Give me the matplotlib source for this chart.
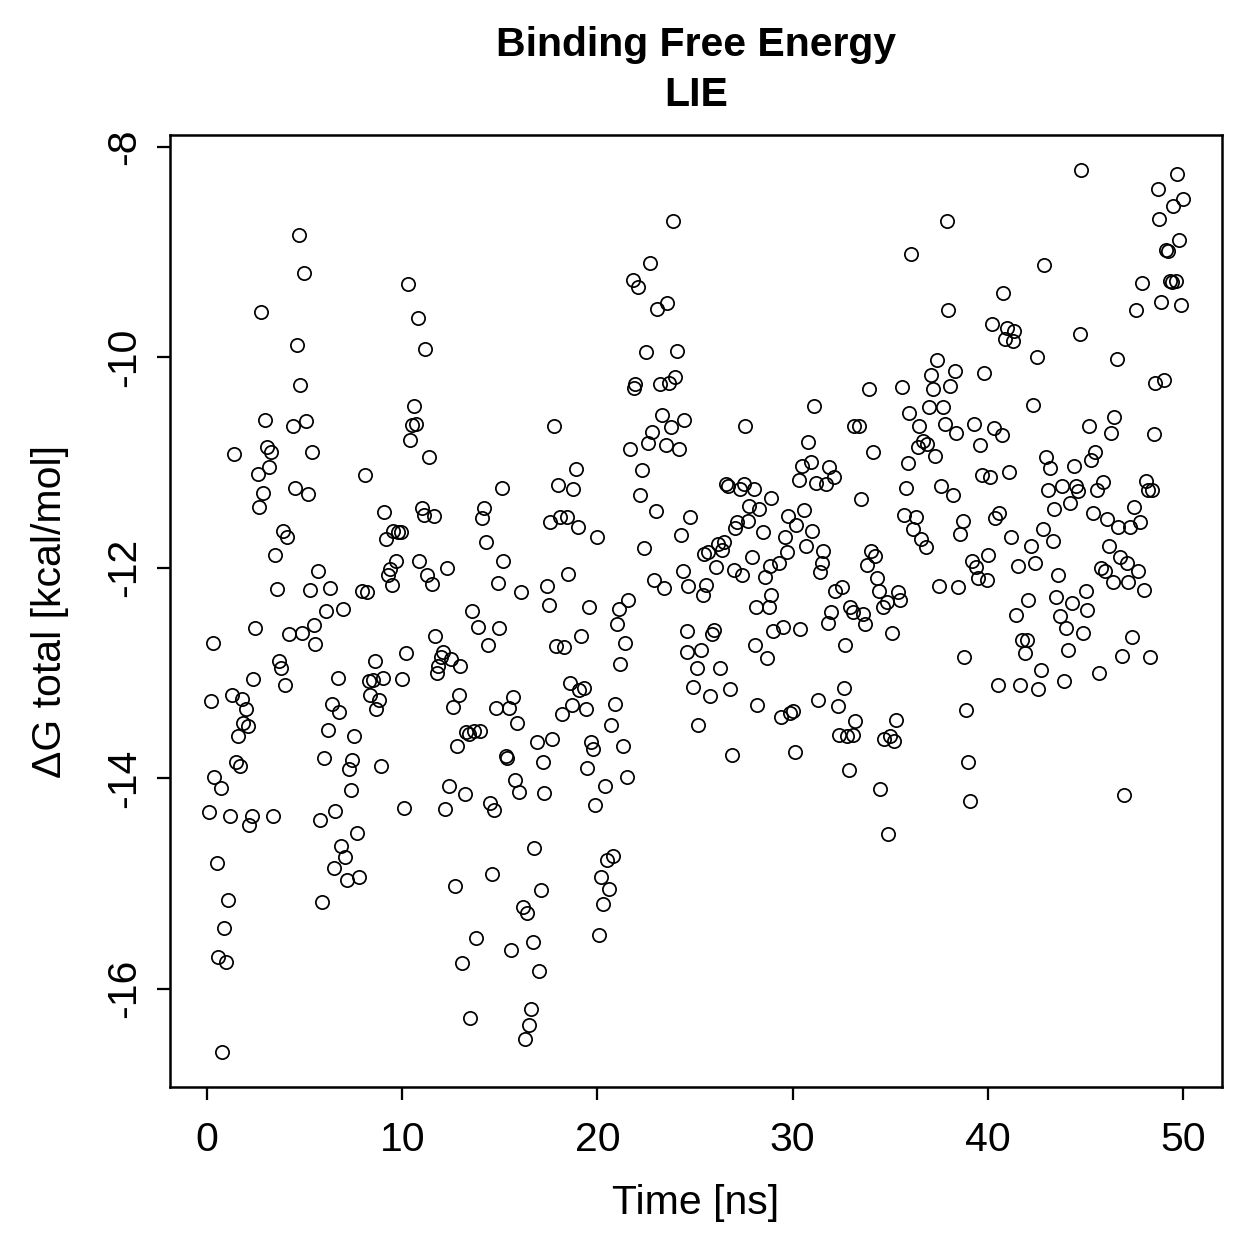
import matplotlib
matplotlib.use('Agg')
import matplotlib.pyplot as plt

plt.rcParams['font.family'] = ['Liberation Sans', 'DejaVu Sans']
plt.rcParams['axes.unicode_minus'] = False

#-------------------------------------------------------------------------------
# Data
#-------------------------------------------------------------------------------

title = 'Binding Free Energy\nLIE'
x_label = 'Time [ns]'
y_label = '\u0394G total [kcal/mol]'
x_ticks = [0, 10, 20, 30, 40, 50]
y_ticks = [-16, -14, -12, -10, -8]

time_ns = [
    # 0 - 8 ns, lower part
    0.31, 2.46, 4.20, 4.87, 5.48, 5.53, 6.10, 6.97, 3.69, 3.79,
    4.00, 2.36, 6.71, 0.20, 1.28, 1.79, 2.00, 1.84, 2.10, 1.59,
    1.49, 1.69, 6.40, 6.76, 6.20, 5.99, 7.53, 7.43, 7.27, 7.38,
    0.36, 0.72, 0.10, 1.18, 2.31, 2.15, 3.38, 5.79, 6.56, 7.68,
    6.86, 7.07, 6.51, 7.17, 7.79, 0.51, 1.08, 5.89, 0.87, 0.56,
    0.97, 0.77,
    # 0 - 8 ns, upper part
    4.71, 4.97, 2.77, 4.61, 4.76, 2.97, 4.41, 5.07, 1.38, 3.07,
    3.28, 5.38, 3.18, 2.61, 4.51, 5.17, 2.87, 2.66, 3.89, 4.10,
    3.48, 5.69, 3.59, 5.28, 6.30,
    # 8 - 16 ns, upper part
    10.30, 10.81, 11.17, 10.60, 10.50, 10.71, 10.40, 11.37, 8.09, 15.11,
    9.07, 11.01, 11.12, 11.63, 14.19, 14.09, 9.53, 9.78, 9.94, 9.17,
    14.29, 9.68, 10.86, 15.16, 9.38, 9.27, 9.48, 12.30, 11.27, 11.53,
    14.91, 7.94, 8.20, 13.58, 16.09,
    # 8 - 16 ns, lower part
    13.88, 14.96, 14.40, 11.68, 10.19, 8.61, 12.09, 11.99, 12.50, 11.83,
    12.96, 11.78, 8.30, 8.50, 9.02, 9.99, 8.35, 8.81, 8.66, 12.91,
    12.60, 14.80, 15.47, 15.68, 15.88, 13.27, 13.42, 13.68, 13.99, 12.81,
    8.91, 15.32, 15.37, 15.78, 15.98, 12.40, 13.22, 10.09, 12.19, 14.50,
    14.70, 12.70, 14.60, 13.78, 15.57, 13.06, 13.47,
    # 16 - 25 ns, upper part
    23.87, 22.69, 21.82, 22.08, 23.57, 23.05, 22.49, 24.08, 21.93, 21.87,
    23.21, 23.67, 23.98, 17.78, 23.31, 23.77, 24.44, 22.80, 22.59, 23.51,
    24.18, 21.67, 18.90, 22.28, 17.98, 18.75, 22.18, 23.00, 17.57, 18.08,
    18.44, 19.01, 19.98, 22.39, 24.28, 24.74, 18.49, 17.42, 17.52, 19.57,
    21.11, 21.57, 22.90, 23.41, 24.39, 24.64,
    # 16 - 25 ns, lower part
    21.00, 21.41, 21.16, 19.16, 17.88, 18.29, 18.60, 19.06, 19.31, 18.70,
    18.19, 19.42, 20.90, 20.70, 16.91, 17.67, 17.21, 19.67, 19.77, 21.31,
    19.47, 21.52, 20.39, 19.88, 17.26, 24.59, 24.59, 24.90, 16.75, 17.11,
    16.19, 16.39, 16.70, 17.01, 20.80, 20.49, 20.18, 20.59, 20.29, 20.08,
    16.60, 16.50, 16.29,
    # 25 - 33 ns, upper part
    31.10, 27.56, 30.79, 30.48, 30.94, 31.86, 32.12, 30.33, 31.20, 31.71,
    33.14, 26.59, 26.69, 27.51, 27.31, 28.02, 28.89, 27.77, 28.28, 29.76,
    30.58, 30.17, 27.72, 27.15, 27.05, 28.48, 30.99, 29.61, 30.69, 31.56,
    31.50, 31.40, 29.71, 29.30, 28.84, 28.58, 27.92, 26.48, 26.18, 26.38,
    25.66, 25.46, 26.07, 27.00, 27.41, 25.56, 25.41, 28.89, 28.12, 28.79,
    32.17, 32.53, 31.97, 32.94,
    # 25 - 33 ns, lower part
    33.09, 31.81, 25.97, 25.87, 29.00, 29.51, 30.38, 32.68, 28.07, 28.69,
    25.31, 25.10, 26.28, 25.77, 26.79, 32.63, 28.17, 31.30, 32.32, 29.40,
    29.86, 30.02, 25.15, 33.20, 32.37, 32.78, 33.09, 26.89, 30.12, 32.89,
    # 33 - 42 ns, upper part
    37.91, 36.07, 40.78, 37.96, 40.21, 40.98, 41.34, 40.88, 41.29, 37.40,
    37.09, 38.32, 37.19, 38.06, 39.81, 33.91, 35.60, 36.99, 37.70, 35.96,
    37.81, 36.48, 38.37, 39.29, 40.32, 40.73, 39.60, 33.40, 34.12, 36.68,
    36.42, 36.89, 37.30, 35.91, 35.81, 37.60, 38.22, 39.70, 40.11, 41.09,
    33.50, 35.71, 36.32, 36.17, 38.73, 38.58, 40.57, 40.37, 41.19, 36.58,
    36.83, 34.02, 34.22, 33.81, 34.32, 39.19, 39.40, 40.01, 39.50, 39.96,
    34.43, 37.50, 38.47, 35.40, 35.50, 34.63, 34.84, 33.61, 41.44, 41.55,
    # 33 - 42 ns, lower part
    33.71, 35.09, 38.78, 40.52, 38.88, 35.30, 34.99, 34.68, 35.19, 38.98,
    34.48, 39.09, 34.89,
    # 42 - 50 ns, upper part
    44.77, 49.69, 48.72, 50.00, 49.49, 48.77, 49.80, 49.13, 49.23, 42.88,
    47.90, 49.33, 49.44, 49.64, 48.87, 49.90, 47.59, 44.72, 42.52, 46.62,
    48.57, 49.03, 42.32, 46.47, 45.18, 46.31, 48.51, 42.98, 43.19, 44.42,
    45.29, 45.49, 45.90, 45.59, 43.80, 44.52, 44.62, 43.08, 48.10, 48.21,
    48.41, 44.21, 43.39, 45.39, 46.11, 46.67, 47.28, 47.80, 47.49, 42.83,
    43.34, 42.21, 42.42, 46.21, 46.77, 47.13, 47.69, 45.80, 46.00, 46.41,
    47.18, 48.00, 43.60, 42.06, 43.49, 44.31, 45.03, 45.08, 43.70,
    # 42 - 50 ns, lower part
    44.01, 44.88, 47.39, 41.75, 42.01, 41.91, 44.11, 46.88, 48.31, 42.73,
    45.70, 41.65, 42.57, 43.90, 46.98,
]

dg_total = [
    # 0 - 8 ns, lower part
    -12.71, -12.57, -12.63, -12.62, -12.54, -12.72, -12.41, -12.39, -12.89, -12.95,
    -13.11, -13.06, -13.05, -13.27, -13.21, -13.25, -13.34, -13.47, -13.50, -13.60,
    -13.85, -13.88, -13.29, -13.37, -13.54, -13.81, -13.60, -13.83, -13.91, -14.11,
    -13.99, -14.09, -14.32, -14.36, -14.36, -14.44, -14.36, -14.40, -14.31, -14.52,
    -14.64, -14.75, -14.85, -14.97, -14.94, -14.81, -15.16, -15.18, -15.42, -15.70,
    -15.75, -16.60,
    # 0 - 8 ns, upper part
    -8.84, -9.20, -9.57, -9.88, -10.26, -10.59, -10.65, -10.60, -10.92, -10.85,
    -10.90, -10.90, -11.04, -11.11, -11.24, -11.30, -11.29, -11.42, -11.65, -11.71,
    -11.88, -12.03, -12.20, -12.21, -12.19,
    # 8 - 16 ns, upper part
    -9.30, -9.62, -9.92, -10.46, -10.64, -10.63, -10.78, -10.95, -11.12, -11.24,
    -11.47, -11.43, -11.50, -11.51, -11.43, -11.53, -11.65, -11.66, -11.66, -11.73,
    -11.75, -11.93, -11.93, -11.93, -12.01, -12.07, -12.16, -12.00, -12.07, -12.15,
    -12.14, -12.22, -12.23, -12.41, -12.23,
    # 8 - 16 ns, lower part
    -12.56, -12.57, -12.73, -12.65, -12.81, -12.89, -12.80, -12.85, -12.87, -12.93,
    -12.93, -13.00, -13.08, -13.07, -13.05, -13.06, -13.21, -13.26, -13.34, -13.21,
    -13.32, -13.33, -13.33, -13.23, -13.47, -13.56, -13.58, -13.55, -13.55, -13.69,
    -13.88, -13.79, -13.81, -14.02, -14.13, -14.07, -14.15, -14.28, -14.29, -14.24,
    -14.30, -15.02, -14.91, -15.52, -15.63, -15.76, -16.28,
    # 16 - 25 ns, upper part
    -8.70, -9.10, -9.26, -9.33, -9.48, -9.54, -9.95, -9.94, -10.25, -10.29,
    -10.25, -10.24, -10.19, -10.65, -10.55, -10.66, -10.59, -10.71, -10.81, -10.83,
    -10.87, -10.87, -11.06, -11.07, -11.21, -11.25, -11.31, -11.46, -11.56, -11.52,
    -11.52, -11.61, -11.71, -11.81, -11.69, -11.52, -12.06, -12.17, -12.35, -12.37,
    -12.39, -12.31, -12.12, -12.19, -12.03, -12.17,
    # 16 - 25 ns, lower part
    -12.53, -12.71, -12.91, -12.65, -12.74, -12.75, -13.09, -13.16, -13.14, -13.30,
    -13.39, -13.34, -13.29, -13.49, -13.66, -13.63, -13.85, -13.66, -13.72, -13.69,
    -13.90, -13.99, -14.07, -14.25, -14.14, -12.60, -12.80, -13.13, -14.66, -15.06,
    -15.22, -15.28, -15.56, -15.83, -14.74, -14.78, -14.94, -15.05, -15.20, -15.49,
    -16.19, -16.35, -16.48,
    # 25 - 33 ns, upper part
    -10.46, -10.65, -10.80, -11.03, -10.99, -11.04, -11.14, -11.16, -11.19, -11.20,
    -10.65, -11.20, -11.22, -11.20, -11.25, -11.25, -11.34, -11.41, -11.44, -11.51,
    -11.45, -11.59, -11.55, -11.56, -11.62, -11.66, -11.65, -11.71, -11.79, -11.84,
    -11.95, -12.04, -11.85, -11.95, -11.98, -12.09, -11.90, -11.75, -11.77, -11.83,
    -11.85, -11.87, -11.99, -12.02, -12.07, -12.16, -12.26, -12.26, -12.37, -12.37,
    -12.22, -12.18, -12.42, -12.37,
    # 25 - 33 ns, lower part
    -12.42, -12.52, -12.59, -12.63, -12.60, -12.56, -12.58, -12.73, -12.73, -12.86,
    -12.78, -12.95, -12.95, -13.22, -13.15, -13.14, -13.30, -13.26, -13.31, -13.42,
    -13.38, -13.36, -13.49, -13.46, -13.59, -13.60, -13.59, -13.78, -13.75, -13.92,
    # 33 - 42 ns, upper part
    -8.70, -9.02, -9.39, -9.55, -9.68, -9.72, -9.75, -9.82, -9.84, -10.02,
    -10.17, -10.13, -10.30, -10.27, -10.15, -10.30, -10.28, -10.47, -10.47, -10.53,
    -10.63, -10.65, -10.72, -10.63, -10.67, -10.74, -10.83, -10.65, -10.90, -10.79,
    -10.85, -10.82, -10.94, -11.00, -11.24, -11.22, -11.31, -11.12, -11.14, -11.09,
    -11.35, -11.50, -11.52, -11.63, -11.55, -11.68, -11.48, -11.53, -11.71, -11.73,
    -11.80, -11.84, -11.89, -11.97, -12.10, -11.93, -11.99, -11.88, -12.10, -12.12,
    -12.22, -12.17, -12.18, -12.23, -12.31, -12.37, -12.32, -12.44, -12.45, -11.98,
    # 33 - 42 ns, lower part
    -12.53, -12.62, -12.85, -13.11, -13.35, -13.45, -13.60, -13.63, -13.65, -13.85,
    -14.10, -14.22, -14.53,
    # 42 - 50 ns, upper part
    -8.22, -8.26, -8.40, -8.49, -8.56, -8.68, -8.88, -8.98, -8.99, -9.12,
    -9.29, -9.27, -9.28, -9.27, -9.47, -9.50, -9.55, -9.78, -10.00, -10.01,
    -10.24, -10.21, -10.45, -10.57, -10.65, -10.72, -10.73, -10.95, -11.05, -11.03,
    -10.97, -10.90, -11.18, -11.26, -11.22, -11.22, -11.27, -11.26, -11.17, -11.26,
    -11.26, -11.38, -11.44, -11.48, -11.54, -11.61, -11.61, -11.56, -11.42, -11.63,
    -11.74, -11.79, -11.95, -11.79, -11.90, -11.95, -12.03, -12.00, -12.03, -12.13,
    -12.13, -12.21, -12.07, -12.31, -12.28, -12.33, -12.22, -12.40, -12.46,
    # 42 - 50 ns, lower part
    -12.57, -12.62, -12.66, -12.69, -12.69, -12.81, -12.78, -12.84, -12.85, -12.97,
    -13.00, -13.11, -13.15, -13.08, -14.16,
]

#-------------------------------------------------------------------------------
# Plot (R base graphics look)
#-------------------------------------------------------------------------------

W = H = 1259
DPI = 180
FS = 16.4

fig = plt.figure(figsize=(W / DPI, H / DPI), dpi=DPI)
ax = fig.add_axes([170 / W, 1 - 1087 / H, (1222 - 170) / W, (1087 - 135) / H])

ax.plot(time_ns, dg_total, linestyle='none', marker='o', markersize=5.3,
        markerfacecolor='none', markeredgecolor='black', markeredgewidth=0.7)

# R pads each axis range by 4%
def padded(vals):
    lo, hi = min(vals), max(vals)
    r = hi - lo
    return lo - 0.04 * r, hi + 0.04 * r

ax.set_xlim(padded(time_ns))
ax.set_ylim(padded(dg_total))

ax.set_xticks(x_ticks)
ax.set_yticks(y_ticks)
ax.set_xticklabels([str(v) for v in x_ticks], fontsize=FS)
ax.set_yticklabels([str(v) for v in y_ticks], fontsize=FS, rotation=90, va='center')
ax.tick_params(direction='out', length=5.2, width=0.9, colors='black')
ax.tick_params(axis='x', pad=8.5)
ax.tick_params(axis='y', pad=5.5)
for sp in ax.spines.values():
    sp.set_linewidth(1.0)

cx = (170 + 1222) / 2 / W
for i, line in enumerate(title.split('\n')):
    fig.text(cx, 1 - (45 + 50 * i) / H, line, ha='center', va='center',
             fontsize=FS, fontweight='bold')
fig.text(cx, 1 - 1203 / H, x_label, ha='center', va='center', fontsize=FS)
fig.text(50 / W, 1 - 611 / H, y_label, ha='center', va='center',
         rotation=90, fontsize=FS)

fig.savefig('out.png', dpi=DPI)
